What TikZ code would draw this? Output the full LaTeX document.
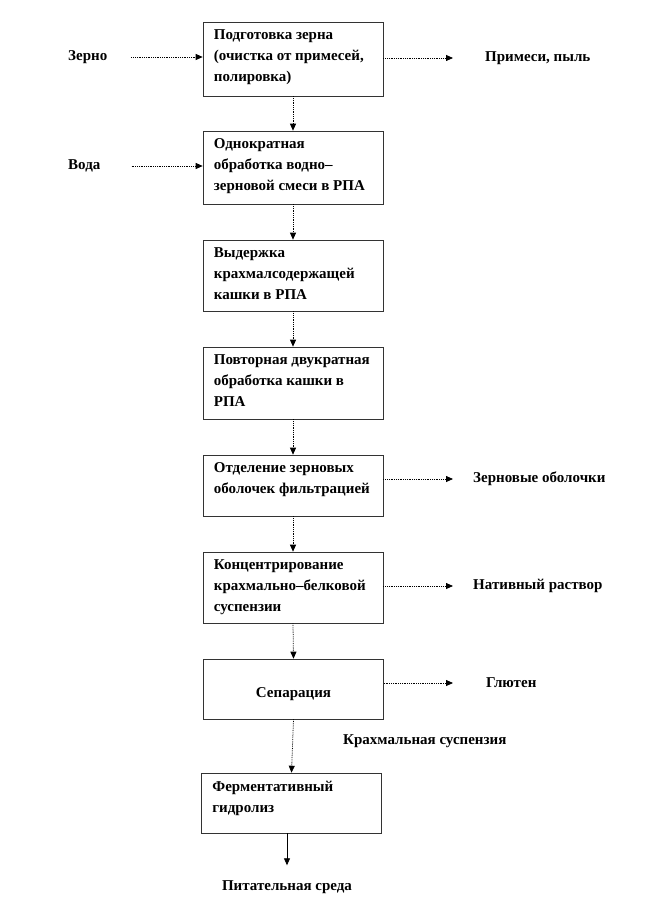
\documentclass[tikz,border=0pt]{standalone}
\usepackage{fontspec}
\setmainfont{Liberation Serif}
\usetikzlibrary{arrows.meta}

\tikzset{
  stage/.style={draw=black!80, line width=0.6pt, minimum width=180pt, inner sep=0pt},
  stagetext/.style={anchor=north west, inner sep=0pt, align=left, font=\fontsize{15}{21}\selectfont\bfseries},
  lbl/.style={inner sep=0pt, font=\fontsize{15}{21}\selectfont\bfseries},
  flow/.style={densely dotted, line width=0.8pt, -{Triangle[length=7pt,width=6pt]}},
}

\begin{document}
\begin{tikzpicture}[x=1pt, y=-1pt]
    \useasboundingbox (0,0) rectangle (648,917);

    % stages
    \foreach \n/\xc/\yc/\h/\txt in {
        1/293/59/74/{Подготовка зерна\\(очистка от примесей,\\полировка)},
        2/293/167.5/73/{Однократная\\обработка водно–\\зерновой смеси в РПА},
        3/293/275.5/71/{Выдержка\\крахмалсодержащей\\кашки  в РПА},
        4/293/383/72/{Повторная двукратная\\обработка кашки  в\\РПА},
        5/293/485.5/61/{Отделение зерновых\\оболочек фильтрацией},
        6/293/587.5/71/{Концентрирование\\крахмально–белковой\\суспензии},
        8/291.5/803/60/{Ферментативный\\гидролиз}}
    {
        \node[stage, minimum height=\h pt] (s\n) at (\xc,\yc) {};
        \node[stagetext] (t\n) at ([shift={(11,8)}]s\n.north west) {\txt};
    }
    \node[stage, minimum height=60pt] (s7) at (293.5,689) {};
    \node[lbl] (t7) at ([yshift=-5pt]s7.center) {Сепарация};

    \foreach \a/\b in {1/2, 2/3, 3/4, 4/5, 5/6, 6/7, 7/8}
        \draw[flow] (s\a.south) -- (s\b.north);

    % inputs and outputs
    \node[lbl, anchor=west] (zerno) at (68,57) {Зерно};
    \node[lbl, anchor=west] (voda) at (68,166) {Вода};
    \node[lbl, anchor=west] (prim) at (485,58) {Примеси, пыль};
    \node[lbl, anchor=west] (obol) at (473,479) {Зерновые оболочки};
    \node[lbl, anchor=west] (nativ) at (473,586) {Нативный раствор};
    \node[lbl, anchor=west] (gluten) at (486,683) {Глютен};
    \node[lbl, anchor=west] (susp) at (343,741) {Крахмальная суспензия};
    \node[lbl] (food) at (287,887) {Питательная среда};

    \draw[flow, shorten <=24pt] (zerno.east) -- (zerno.east -| s1.west);
    \draw[flow, shorten <=31pt] (voda.east) -- (voda.east -| s2.west);
    \draw[flow, shorten >=32pt] (prim.west -| s1.east) -- (prim.west);
    \draw[flow, shorten >=20pt] (obol.west -| s5.east) -- (obol.west);
    \draw[flow, shorten >=20pt] (nativ.west -| s6.east) -- (nativ.west);
    \draw[flow, shorten >=33pt] (gluten.west -| s7.east) -- (gluten.west);
    \draw[line width=0.8pt, -{Triangle[length=7pt,width=6pt]}, shorten >=15pt] (s8.south -| food.north) -- (food.north);
\end{tikzpicture}
\end{document}
